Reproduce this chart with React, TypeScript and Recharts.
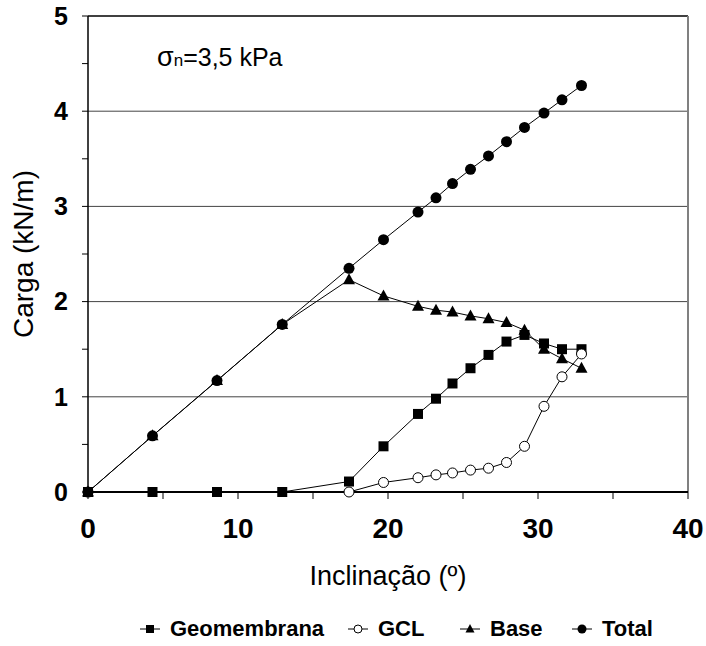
import React from "react"
import {
  LineChart,
  Line,
  XAxis,
  YAxis,
  ReferenceLine,
} from "recharts"

// inclinação (graus)
const inclinacao = [0, 4.3, 8.6, 12.95, 17.4, 19.7, 22.0, 23.2, 24.3, 25.5, 26.7, 27.9, 29.1, 30.4, 31.6, 32.9]

const geomembrana = [0, 0, 0, 0, 0.11, 0.48, 0.82, 0.98, 1.14, 1.3, 1.44, 1.58, 1.65, 1.56, 1.5, 1.5]
const gcl = [null, null, null, null, 0, 0.1, 0.15, 0.18, 0.2, 0.23, 0.25, 0.31, 0.48, 0.9, 1.21, 1.45]
const base = [0, 0.59, 1.17, 1.76, 2.23, 2.06, 1.95, 1.91, 1.89, 1.85, 1.82, 1.78, 1.7, 1.5, 1.4, 1.3]
const total = [0, 0.59, 1.17, 1.76, 2.35, 2.65, 2.94, 3.09, 3.24, 3.39, 3.53, 3.68, 3.83, 3.98, 4.12, 4.27]

const xTicks = [0, 5, 10, 15, 20, 25, 30, 35, 40]
const yTicks = [0, 0.5, 1, 1.5, 2, 2.5, 3, 3.5, 4, 4.5, 5]
const gridValues = [1, 2, 3, 4]

const data = inclinacao.map((x, i) => ({
  x,
  geomembrana: geomembrana[i],
  gcl: gcl[i],
  base: base[i],
  total: total[i],
}))

const FONT = "'Liberation Sans', Arial, sans-serif"

const SquareDot = (p: any) => {
  if (p.cx == null || p.cy == null || p.value == null) return <g key={p.index} />
  return <rect key={p.index} x={p.cx - 5} y={p.cy - 5} width={10} height={10} fill="#000" />
}

const OpenDot = (p: any) => {
  if (p.cx == null || p.cy == null || p.value == null) return <g key={p.index} />
  return <circle key={p.index} cx={p.cx} cy={p.cy} r={5} fill="#fff" stroke="#000" strokeWidth={1} />
}

const TriangleDot = (p: any) => {
  if (p.cx == null || p.cy == null || p.value == null) return <g key={p.index} />
  const { cx, cy } = p
  return (
    <path
      key={p.index}
      d={`M${cx},${cy - 6.5} L${cx + 6},${cy + 4.5} L${cx - 6},${cy + 4.5} Z`}
      fill="#000"
    />
  )
}

const FilledDot = (p: any) => {
  if (p.cx == null || p.cy == null || p.value == null) return <g key={p.index} />
  return <circle key={p.index} cx={p.cx} cy={p.cy} r={5.5} fill="#000" />
}

const legendItems = [
  { name: "Geomembrana", kind: "square", left: 140 },
  { name: "GCL", kind: "open", left: 348 },
  { name: "Base", kind: "triangle", left: 460 },
  { name: "Total", kind: "filled", left: 572 },
]

function LegendMarker({ kind }: { kind: string }) {
  return (
    <svg width={20} height={14} style={{ display: "block" }}>
      <line x1={0} y1={7} x2={20} y2={7} stroke="#000" strokeWidth={1} />
      {kind === "square" && <rect x={6} y={3} width={8} height={8} fill="#000" />}
      {kind === "open" && <circle cx={10} cy={7} r={4} fill="#fff" stroke="#000" />}
      {kind === "triangle" && <path d="M10,2 L14.5,10.5 L5.5,10.5 Z" fill="#000" />}
      {kind === "filled" && <circle cx={10} cy={7} r={4.5} fill="#000" />}
    </svg>
  )
}

export default function App() {
  return (
    <div
      style={{
        position: "absolute",
        top: 0,
        left: 0,
        width: 706,
        height: 646,
        overflow: "hidden",
        fontFamily: FONT,
      }}
    >
      <LineChart
        width={706}
        height={646}
        data={data}
        margin={{ top: 16, right: 18, left: 0, bottom: 54 }}
      >
        {gridValues.map((v) => (
          <ReferenceLine key={v} y={v} stroke="#444" strokeWidth={1} />
        ))}
        <ReferenceLine y={5} stroke="#000" strokeWidth={1.5} />
        <ReferenceLine x={40} stroke="#808080" strokeWidth={2} />

        <XAxis
          type="number"
          dataKey="x"
          domain={[0, 40]}
          ticks={xTicks}
          interval={0}
          tickFormatter={(v: number) => (v % 10 === 0 ? String(v) : "")}
          height={100}
          tickSize={7}
          tickMargin={19}
          axisLine={{ stroke: "#000", strokeWidth: 2 }}
          tickLine={{ stroke: "#000" }}
          tick={{ fill: "#000", fontSize: 28, fontWeight: "bold", fontFamily: FONT }}
          label={{
            value: "Inclinação (º)",
            position: "insideBottom",
            offset: 7,
            style: { fill: "#000", fontSize: 27, fontFamily: FONT },
          }}
        />
        <YAxis
          type="number"
          domain={[0, 5]}
          ticks={yTicks}
          interval={0}
          tickFormatter={(v: number) => (Number.isInteger(v) ? String(v) : "")}
          width={88}
          tickSize={6}
          tickMargin={14}
          axisLine={{ stroke: "#000", strokeWidth: 1.5 }}
          tickLine={{ stroke: "#000" }}
          tick={{ fill: "#000", fontSize: 25, fontWeight: "bold", fontFamily: FONT }}
          label={{
            value: "Carga (kN/m)",
            angle: -90,
            position: "insideLeft",
            offset: 23,
            style: { fill: "#000", fontSize: 28, fontFamily: FONT, textAnchor: "middle" },
          }}
        />

        <Line
          dataKey="geomembrana"
          stroke="#000"
          strokeWidth={1}
          dot={SquareDot}
          activeDot={false}
          isAnimationActive={false}
        />
        <Line
          dataKey="gcl"
          stroke="#000"
          strokeWidth={1}
          dot={OpenDot}
          activeDot={false}
          isAnimationActive={false}
        />
        <Line
          dataKey="base"
          stroke="#000"
          strokeWidth={1}
          dot={TriangleDot}
          activeDot={false}
          isAnimationActive={false}
        />
        <Line
          dataKey="total"
          stroke="#000"
          strokeWidth={1}
          dot={FilledDot}
          activeDot={false}
          isAnimationActive={false}
        />

        <text x={157} y={66} fill="#000" fontFamily={FONT}>
          <tspan fontSize={27}>σ</tspan>
          <tspan fontSize={17}>n</tspan>
          <tspan fontSize={25}>=3,5 kPa</tspan>
        </text>
      </LineChart>

      {legendItems.map((it) => (
        <div
          key={it.name}
          style={{
            position: "absolute",
            top: 618,
            left: it.left,
            display: "flex",
            alignItems: "center",
            gap: 10,
            fontSize: 22,
            lineHeight: "22px",
            fontWeight: "bold",
            color: "#000",
            whiteSpace: "nowrap",
          }}
        >
          <LegendMarker kind={it.kind} />
          <span>{it.name}</span>
        </div>
      ))}
    </div>
  )
}
